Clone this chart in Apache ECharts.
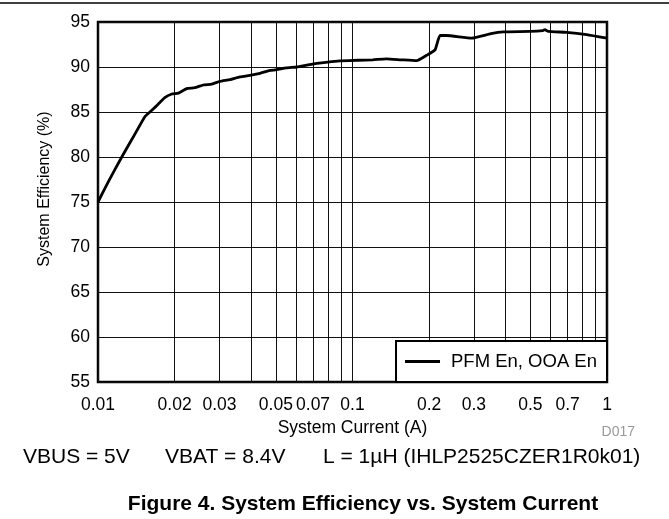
<!DOCTYPE html>
<html>
<head>
<meta charset="utf-8">
<script src="https://cdn.jsdelivr.net/npm/echarts@6/dist/echarts.min.js"></script>
<style>html,body{margin:0;padding:0;background:#fff}#c{width:669px;height:519px}</style>
</head>
<body>
<div id="c"></div>
<script>
// ---- data ----
const currentA = [0.0100,0.0110,0.0124,0.0140,0.0153,0.0160,0.0170,0.0183,0.0195,0.0207,0.0223,0.0240,0.0259,0.0280,0.0301,0.0330,0.0361,0.0400,0.0433,0.0470,0.0504,0.0550,0.0604,0.0660,0.0723,0.0800,0.0893,0.1050,0.1200,0.1360,0.1550,0.1786,0.1957,0.2110,0.2207,0.2336,0.2940,0.3500,0.3914,0.4977,0.5600,0.5705,0.5880,0.6940,0.8320,1.0000];
const efficiency = [75.0,77.3,80.0,82.6,84.5,85.0,85.7,86.6,87.0,87.1,87.6,87.7,88.0,88.1,88.4,88.6,88.9,89.1,89.3,89.6,89.7,89.9,90.0,90.2,90.4,90.55,90.67,90.75,90.8,90.9,90.8,90.7,91.3,91.9,93.5,93.5,93.2,93.7,93.9,93.95,94.05,94.15,93.95,93.85,93.6,93.2];
const seriesName = 'PFM En, OOA En';
const xTickLabels = ['0.01','0.02','0.03','0.05','0.07','0.1','0.2','0.3','0.5','0.7','1'];
const xGridValues = [0.01,0.02,0.03,0.04,0.05,0.06,0.07,0.08,0.09,0.1,0.2,0.3,0.4,0.5,0.6,0.7,0.8,0.9,1];
const yMin = 55, yMax = 95, yStep = 5;
const xName = 'System Current (A)';
const yName = 'System Efficiency (%)';
const noteText = ['VBUS = 5V', 'VBAT = 8.4V', 'L = 1\u00B5H (IHLP2525CZER1R0k01)'];
const figTitle = 'Figure 4. System Efficiency vs. System Current';
const docId = 'D017';

const FONT = 'Liberation Sans, Arial, sans-serif';
const lg = v => Math.log10(v);
const seriesData = currentA.map((c, i) => [lg(c), efficiency[i]]);
const labelPos = xTickLabels.map(t => lg(parseFloat(t)));

const chart = echarts.init(document.getElementById('c'), null, {renderer: 'canvas'});
chart.setOption({
  animation: false,
  backgroundColor: '#fff',
  textStyle: {fontFamily: FONT},
  grid: {left: 98, right: 62, top: 22, bottom: 137, show: true, borderColor: '#000', borderWidth: 2.5, backgroundColor: 'transparent'},
  xAxis: {
    type: 'value', min: lg(0.01), max: lg(1),
    name: xName, nameLocation: 'middle', nameGap: 34,
    nameTextStyle: {fontSize: 17.5, color: '#000', fontFamily: FONT},
    axisLine: {show: false},
    axisTick: {show: false, customValues: xGridValues.map(lg)},
    splitLine: {show: true, lineStyle: {color: '#111', width: 1}},
    axisLabel: {
      customValues: labelPos, margin: 14, fontSize: 17.5, color: '#000', fontFamily: FONT,
      hideOverlap: false,
      formatter: v => {
        let best = 0, d = 1e9;
        labelPos.forEach((p, i) => { if (Math.abs(p - v) < d) { d = Math.abs(p - v); best = i; } });
        return xTickLabels[best];
      }
    }
  },
  yAxis: {
    type: 'value', min: yMin, max: yMax, interval: yStep,
    name: yName, nameLocation: 'middle', nameGap: 45,
    nameTextStyle: {fontSize: 16, color: '#000', fontFamily: FONT, padding: [0, 0, 0, 26]},
    axisLine: {show: false}, axisTick: {show: false},
    splitLine: {show: true, lineStyle: {color: '#111', width: 1}},
    axisLabel: {margin: 8, fontSize: 17.5, color: '#000', fontFamily: FONT}
  },
  legend: {
    data: [seriesName], right: 62, bottom: 137, orient: 'horizontal',
    backgroundColor: '#fff', borderColor: '#000', borderWidth: 2,
    icon: 'rect', itemWidth: 35, itemHeight: 3, itemGap: 0,
    padding: [11, 6, 11, 9],
    itemStyle: {color: '#000'},
    textStyle: {fontSize: 18.5, lineHeight: 19, color: '#000', fontFamily: FONT, padding: [0, 4, 0, 6]}
  },
  series: [{
    name: seriesName, type: 'line', data: seriesData, symbol: 'none', smooth: 0.15,
    lineStyle: {color: '#000', width: 2.8}, itemStyle: {color: '#000'}
  }],
  graphic: [
    {type: 'line', shape: {x1: 0, y1: 3, x2: 669, y2: 3}, style: {stroke: '#000', lineWidth: 1.5}},
    {type: 'text', x: 635, y: 432, style: {text: docId, fill: '#999', font: '14px ' + FONT, textAlign: 'right', textVerticalAlign: 'middle'}},
    {type: 'text', x: 23, y: 457, style: {text: noteText[0], fill: '#000', font: '21px ' + FONT, textAlign: 'left', textVerticalAlign: 'middle'}},
    {type: 'text', x: 165, y: 457, style: {text: noteText[1], fill: '#000', font: '21px ' + FONT, textAlign: 'left', textVerticalAlign: 'middle'}},
    {type: 'text', x: 323, y: 457, style: {text: noteText[2], fill: '#000', font: '21px ' + FONT, textAlign: 'left', textVerticalAlign: 'middle'}},
    {type: 'text', x: 363, y: 504, style: {text: figTitle, fill: '#000', font: 'bold 21px ' + FONT, textAlign: 'center', textVerticalAlign: 'middle'}}
  ]
});
</script>
</body>
</html>
